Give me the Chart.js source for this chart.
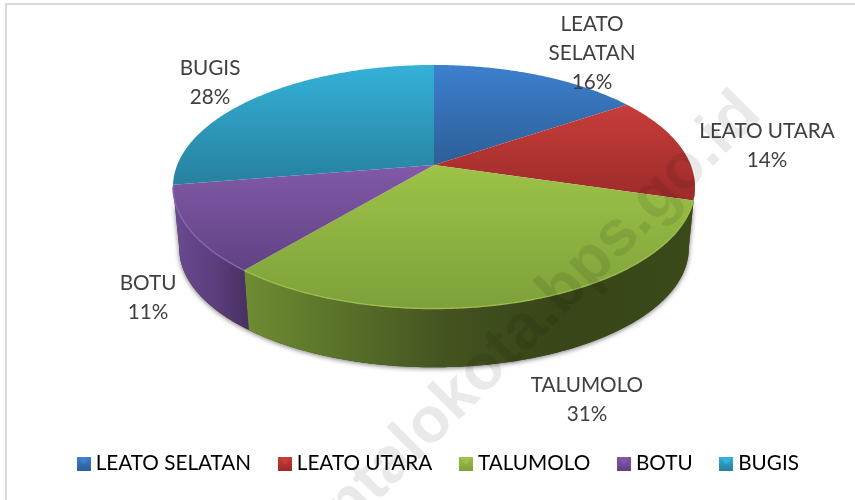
<!DOCTYPE html>
<html>
<head>
<meta charset="utf-8">
<style>html,body{margin:0;padding:0;background:#fff}canvas{display:block}</style>
<script src="https://cdn.jsdelivr.net/npm/chart.js@4"></script>
</head>
<body>
<canvas id="c" width="855" height="500"></canvas>
<script>
const categories = ["LEATO SELATAN", "LEATO UTARA", "TALUMOLO", "BOTU", "BUGIS"];
const shares = [15.5, 14.1, 31.4, 11.4, 27.6];
const percentLabels = ["16%", "14%", "31%", "11%", "28%"];
const labelLines = [["LEATO", "SELATAN"], ["LEATO UTARA"], ["TALUMOLO"], ["BOTU"], ["BUGIS"]];
const labelCentres = [[592, 24], [767, 131], [587, 385], [148, 283], [210, 68]];
const topLight = ["#3c80ce", "#c73d3a", "#9dc348", "#8259a8", "#34b1d8"];
const topDark  = ["#2d5e97", "#9c2b2a", "#7ea03a", "#604283", "#27809e"];
const sideStops = [
  [[0, "#2d5e97"], [1, "#2d5e97"]],
  [[0, "#6d1e1d"], [1, "#6d1e1d"]],
  [[0, "#6f8c33"], [0.15, "#5f7a2c"], [0.45, "#445320"], [0.7, "#374518"], [1, "#3b4a19"]],
  [[0, "#6b4a92"], [0.6, "#5b3e7c"], [1, "#4a3165"]],
  [[0, "#27809e"], [1, "#27809e"]]
];
const rimColour = [null, null, "#9cbd4d", "#8a64b3", null];

// projected disc of the pie's top face
const CX = 434, CY = 165, RX = 256.8, RY = 117.9, K = 0.1786;
const DEPTH = 62.2, SHRINK = 0.976;

function topPoint(a) {
  const w = 1 - K * Math.sin(a);
  return [CX + RX * Math.cos(a) / w, CY + RY * Math.sin(a) / w];
}
function bottomPoint(a) {
  const p = topPoint(a);
  return [CX + SHRINK * (p[0] - CX), CY + DEPTH + SHRINK * (p[1] - CY)];
}
function trace(ctx, fn, a1, a2, first) {
  const n = Math.max(2, Math.ceil(Math.abs(a2 - a1) / 0.01));
  for (let i = 0; i <= n; i++) {
    const p = fn(a1 + (a2 - a1) * i / n);
    if (i === 0 && first) ctx.moveTo(p[0], p[1]); else ctx.lineTo(p[0], p[1]);
  }
}
const VIS_A = Math.asin(K), VIS_B = Math.PI - Math.asin(K);

const pie3d = {
  id: "pie3d",
  beforeDatasetsDraw(chart) {
    const ctx = chart.ctx;
    const arcs = chart.getDatasetMeta(0).data;
    ctx.save();
    // soft shadow under the body
    ctx.save();
    ctx.shadowColor = "rgba(0,0,0,0.55)";
    ctx.shadowBlur = 5;
    ctx.shadowOffsetX = 0;
    ctx.shadowOffsetY = 1;
    ctx.fillStyle = "#3b4a19";
    ctx.beginPath();
    trace(ctx, topPoint, VIS_A, VIS_B, true);
    trace(ctx, bottomPoint, VIS_B, VIS_A, false);
    ctx.closePath();
    ctx.fill();
    ctx.restore();
    // side walls
    arcs.forEach((arc, i) => {
      const a1 = Math.max(arc.startAngle, VIS_A), a2 = Math.min(arc.endAngle, VIS_B);
      if (a2 <= a1) return;
      const xa = bottomPoint(a1)[0], xb = topPoint(a2)[0];
      const gx0 = Math.min(xa, xb), gx1 = Math.max(topPoint(a1)[0], bottomPoint(a2)[0]);
      const g = ctx.createLinearGradient(gx0, 0, gx1, 0);
      sideStops[i].forEach(s => g.addColorStop(s[0], s[1]));
      ctx.fillStyle = g;
      ctx.beginPath();
      trace(ctx, topPoint, a1, a2, true);
      trace(ctx, bottomPoint, a2, a1, false);
      ctx.closePath();
      ctx.fill();
    });
    // top faces
    arcs.forEach((arc, i) => {
      let ymin = CY, ymax = CY;
      for (let t = 0; t <= 40; t++) {
        const y = topPoint(arc.startAngle + (arc.endAngle - arc.startAngle) * t / 40)[1];
        ymin = Math.min(ymin, y); ymax = Math.max(ymax, y);
      }
      const g = ctx.createLinearGradient(0, ymin, 0, ymax);
      g.addColorStop(0, topLight[i]);
      g.addColorStop(1, topDark[i]);
      ctx.fillStyle = g;
      ctx.beginPath();
      ctx.moveTo(CX, CY);
      trace(ctx, topPoint, arc.startAngle, arc.endAngle, false);
      ctx.closePath();
      ctx.fill();
      if (rimColour[i]) {
        ctx.strokeStyle = rimColour[i];
        ctx.lineWidth = 1.4;
        ctx.beginPath();
        trace(ctx, topPoint, Math.max(arc.startAngle, VIS_A), Math.min(arc.endAngle, VIS_B), true);
        ctx.stroke();
      }
    });
    ctx.restore();
    return false;
  },
  afterDraw(chart) {
    const ctx = chart.ctx;
    ctx.save();
    // frame
    ctx.fillStyle = "#d9d9d9";
    ctx.fillRect(5, 3, 850, 2);
    ctx.fillRect(5, 3, 2, 497);
    // data labels
    ctx.fillStyle = "#404040";
    ctx.font = "20.7px Lato";
    ctx.textAlign = "center";
    ctx.textBaseline = "middle";
    categories.forEach((c, i) => {
      const lines = labelLines[i].concat(percentLabels[i]);
      lines.forEach((t, j) => ctx.fillText(t, labelCentres[i][0], labelCentres[i][1] + j * 29));
    });
    // watermark
    ctx.translate(763, 116);
    ctx.rotate(-Math.PI / 4);
    ctx.fillStyle = "rgba(0,0,0,0.085)";
    ctx.font = "bold 64px 'Liberation Sans'";
    ctx.textAlign = "right";
    ctx.textBaseline = "alphabetic";
    ctx.fillText("https://gorontalokota.bps.go.id", 0, 0);
    ctx.restore();
  }
};

function swatch(i) {
  const s = document.createElement("canvas");
  s.width = 14; s.height = 14;
  const c = s.getContext("2d");
  const g = c.createLinearGradient(0, 0, 0, 14);
  g.addColorStop(0, topLight[i]);
  g.addColorStop(1, topDark[i]);
  c.fillStyle = g;
  c.fillRect(0, 0, 14, 14);
  c.fillStyle = topLight[i];
  c.beginPath();
  c.moveTo(1, 1); c.lineTo(13, 1); c.lineTo(7, 8); c.closePath();
  c.fill();
  return s;
}

new Chart(document.getElementById("c"), {
  type: "pie",
  data: {
    labels: categories,
    datasets: [{ data: shares, backgroundColor: topLight, borderWidth: 0 }]
  },
  plugins: [pie3d],
  options: {
    responsive: false,
    animation: false,
    layout: { padding: { left: 26, bottom: 16 } },
    plugins: {
      tooltip: { enabled: false },
      legend: {
        position: "bottom",
        labels: {
          font: { family: "Lato", size: 20.7 },
          color: "#595959",
          padding: 32,
          usePointStyle: true,
          pointStyleWidth: 3.3,
          generateLabels(chart) {
            return categories.map((c, i) => ({
              text: c,
              fillStyle: topLight[i],
              strokeStyle: topLight[i],
              lineWidth: 0,
              pointStyle: swatch(i),
              hidden: false,
              index: i
            }));
          }
        }
      }
    }
  }
});
</script>
</body>
</html>
